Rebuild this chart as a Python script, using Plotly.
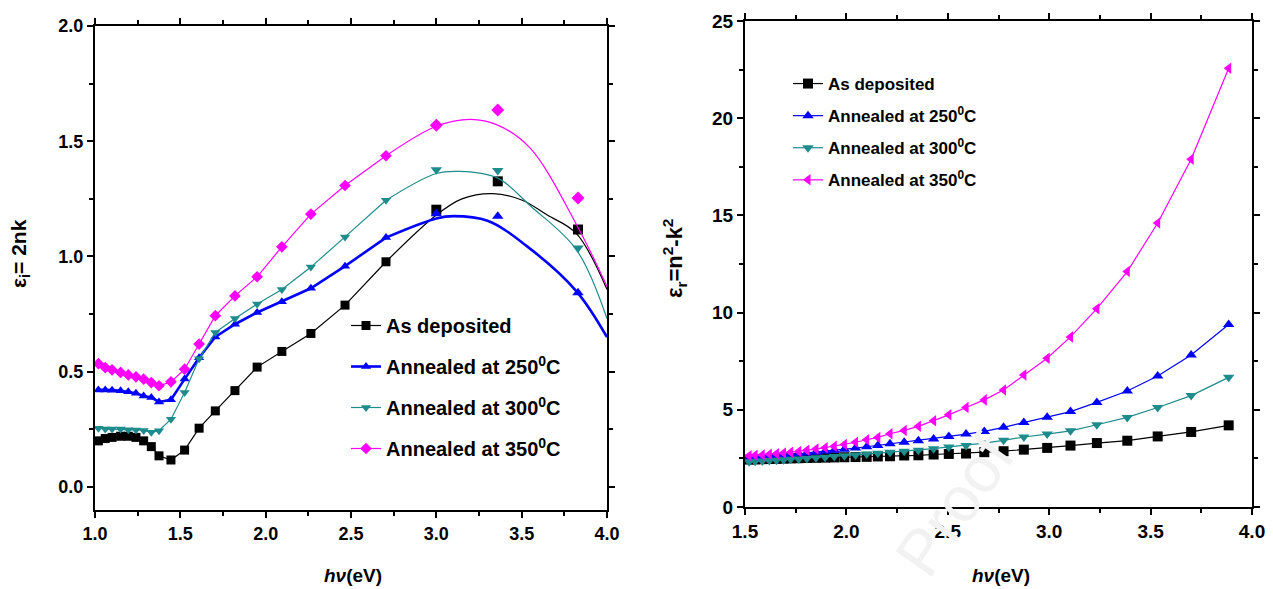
import plotly.graph_objects as go

W, H = 1273, 589

# ---------------- Left panel data (eps_i = 2nk) ----------------
left_x = [1.02, 1.06, 1.10, 1.15, 1.195, 1.24, 1.285, 1.33, 1.375, 1.445, 1.525,
          1.61, 1.705, 1.82, 1.95, 2.095, 2.265, 2.465, 2.705, 3.0, 3.36, 3.83]
dep_i = [0.20, 0.21, 0.215, 0.22, 0.22, 0.215, 0.20, 0.175, 0.135, 0.117, 0.16,
         0.255, 0.33, 0.418, 0.52, 0.588, 0.666, 0.789, 0.977, 1.203, 1.326, 1.117]
a250_i = [0.421, 0.421, 0.42, 0.417, 0.413, 0.407, 0.395, 0.388, 0.369, 0.378, 0.468,
          0.561, 0.651, 0.706, 0.757, 0.804, 0.862, 0.958, 1.082, 1.185, 1.174, 0.843]
a300_i = [0.255, 0.251, 0.251, 0.251, 0.248, 0.247, 0.245, 0.237, 0.244, 0.294, 0.41,
          0.556, 0.67, 0.731, 0.794, 0.857, 0.954, 1.085, 1.244, 1.376, 1.373, 1.037]
a350_i = [0.535, 0.518, 0.508, 0.497, 0.486, 0.478, 0.468, 0.453, 0.439, 0.456, 0.511,
          0.62, 0.743, 0.829, 0.912, 1.042, 1.184, 1.308, 1.437, 1.569, 1.636, 1.254]

# fitted curves (high-energy part)
dep_fit_x = [2.705, 3.0, 3.15, 3.33, 3.5, 3.65, 3.82, 4.0]
dep_fit_y = [0.977, 1.18, 1.25, 1.273, 1.245, 1.18, 1.10, 0.857]
a250_fit_x = [2.705, 3.0, 3.1, 3.3, 3.53, 3.82, 4.0]
a250_fit_y = [1.082, 1.165, 1.175, 1.155, 1.045, 0.85, 0.65]
a300_fit_x = [2.705, 3.0, 3.14, 3.36, 3.55, 3.82, 4.0]
a300_fit_y = [1.244, 1.36, 1.369, 1.34, 1.22, 1.03, 0.73]
a350_fit_x = [2.705, 3.0, 3.2, 3.36, 3.55, 3.82, 4.0]
a350_fit_y = [1.437, 1.565, 1.595, 1.57, 1.47, 1.14, 0.87]
N_LINE = 19  # points joined by straight segments

# ---------------- Right panel data (eps_r = n^2 - k^2) ----------------
right_x = [1.52, 1.55, 1.585, 1.62, 1.655, 1.69, 1.725, 1.765, 1.805, 1.85, 1.895,
           1.94, 1.99, 2.045, 2.10, 2.155, 2.215, 2.285, 2.355, 2.43, 2.505, 2.59,
           2.68, 2.775, 2.875, 2.99, 3.105, 3.235, 3.385, 3.535, 3.70, 3.885]
dep_r = [2.44, 2.45, 2.46, 2.47, 2.48, 2.49, 2.50, 2.51, 2.52, 2.53, 2.54,
         2.55, 2.56, 2.57, 2.58, 2.60, 2.61, 2.65, 2.66, 2.70, 2.73, 2.75,
         2.82, 2.87, 2.95, 3.04, 3.16, 3.29, 3.41, 3.63, 3.86, 4.20]
a250_r = [2.55, 2.57, 2.60, 2.62, 2.65, 2.68, 2.71, 2.74, 2.78, 2.82, 2.87,
          2.92, 2.97, 3.03, 3.10, 3.17, 3.26, 3.33, 3.41, 3.50, 3.63, 3.75,
          3.89, 4.10, 4.35, 4.62, 4.91, 5.38, 5.97, 6.74, 7.82, 9.39]
a300_r = [2.33, 2.35, 2.37, 2.39, 2.41, 2.43, 2.45, 2.47, 2.50, 2.53, 2.56,
          2.60, 2.64, 2.68, 2.72, 2.77, 2.82, 2.87, 2.92, 3.00, 3.09, 3.17,
          3.29, 3.43, 3.60, 3.75, 3.92, 4.23, 4.61, 5.12, 5.73, 6.67]
a350_r = [2.64, 2.66, 2.68, 2.71, 2.74, 2.78, 2.82, 2.86, 2.92, 2.98, 3.05,
          3.13, 3.22, 3.33, 3.46, 3.58, 3.77, 3.94, 4.15, 4.44, 4.74, 5.12,
          5.51, 6.02, 6.79, 7.65, 8.75, 10.2, 12.11, 14.61, 17.89, 22.57]

names = ["As deposited", "Annealed at 250<sup>0</sup>C",
         "Annealed at 300<sup>0</sup>C", "Annealed at 350<sup>0</sup>C"]
colors = ["#000000", "#0000FF", "#1E8C8C", "#FF00FF"]
left_symbols = ["square", "triangle-up", "triangle-down", "diamond"]
right_symbols = ["square", "triangle-up", "triangle-down", "triangle-left"]
left_widths = [1.2, 2.6, 1.2, 1.2]

FONT = "Liberation Sans, Arial, sans-serif"

fig = go.Figure()

left_series = [dep_i, a250_i, a300_i, a350_i]
fits = [(dep_fit_x, dep_fit_y), (a250_fit_x, a250_fit_y),
        (a300_fit_x, a300_fit_y), (a350_fit_x, a350_fit_y)]
for k in range(4):
    # measured points joined by straight segments (legend entry)
    fig.add_trace(go.Scatter(
        x=left_x[:N_LINE], y=left_series[k][:N_LINE], mode="lines+markers",
        name=names[k], legendgroup="L%d" % k, legend="legend",
        line=dict(color=colors[k], width=left_widths[k]),
        marker=dict(symbol=left_symbols[k], size=9, color=colors[k]),
        xaxis="x", yaxis="y"))
    # remaining points (markers only)
    fig.add_trace(go.Scatter(
        x=left_x[N_LINE:], y=left_series[k][N_LINE:], mode="markers",
        showlegend=False, marker=dict(symbol=left_symbols[k], size=10, color=colors[k]),
        xaxis="x", yaxis="y"))
    # fitted curve
    fig.add_trace(go.Scatter(
        x=fits[k][0], y=fits[k][1], mode="lines", showlegend=False,
        line=dict(color=colors[k], width=left_widths[k], shape="spline", smoothing=1.0),
        xaxis="x", yaxis="y"))

right_series = [dep_r, a250_r, a300_r, a350_r]
for k in range(4):
    fig.add_trace(go.Scatter(
        x=right_x, y=right_series[k], mode="lines+markers",
        name=names[k], legendgroup="R%d" % k, legend="legend2",
        line=dict(color=colors[k], width=1.2),
        marker=dict(symbol=right_symbols[k], size=10, color=colors[k]),
        xaxis="x2", yaxis="y2"))

def px_x(p):
    return p / W

def px_y(p):
    return 1 - p / H

axis_common = dict(showline=True, linewidth=2, linecolor="black", mirror="ticks",
                   ticks="outside", ticklen=6, tickwidth=2, tickcolor="black",
                   showgrid=False, zeroline=False, automargin=False)
minor_common = dict(ticks="outside", ticklen=4, tickwidth=1.5, tickcolor="black")

fig.update_layout(
    width=W, height=H,
    paper_bgcolor="white", plot_bgcolor="white",
    margin=dict(l=0, r=0, t=0, b=0, autoexpand=False),
    font=dict(family=FONT, color="black"),
    xaxis=dict(domain=[px_x(95), px_x(607)], range=[1.0, 4.0], tick0=1.0, dtick=0.5,
               tickformat=".1f", anchor="y", minor=dict(dtick=0.25, **minor_common),
               tickfont=dict(size=18, family=FONT, weight="bold"), **axis_common),
    yaxis=dict(domain=[px_y(510), px_y(26)], range=[-0.1, 2.0], tick0=0, dtick=0.5,
               tickformat=".1f", anchor="x", minor=dict(dtick=0.25, **minor_common),
               tickfont=dict(size=18, family=FONT, weight="bold"), **axis_common),
    xaxis2=dict(domain=[px_x(745), px_x(1252)], range=[1.5, 4.0], tick0=1.5, dtick=0.5,
                tickformat=".1f", anchor="y2", minor=dict(dtick=0.25, **minor_common),
                tickfont=dict(size=19, family=FONT, weight="bold"), **axis_common),
    yaxis2=dict(domain=[px_y(507), px_y(21)], range=[0, 25], tick0=0, dtick=5,
                anchor="x2", minor=dict(dtick=2.5, **minor_common),
                tickfont=dict(size=19, family=FONT, weight="bold"), **axis_common),
    legend=dict(x=px_x(346), y=px_y(306), xanchor="left", yanchor="top",
                bgcolor="rgba(0,0,0,0)", traceorder="grouped", tracegroupgap=12,
                font=dict(size=20, family=FONT, weight="bold", color="black")),
    legend2=dict(x=px_x(788), y=px_y(66), xanchor="left", yanchor="top",
                 bgcolor="rgba(0,0,0,0)", traceorder="grouped", tracegroupgap=7,
                 font=dict(size=17, family=FONT, weight="bold", color="black")),
    showlegend=True,
)

annotations = [
    dict(text="<i>hν</i>(eV)", x=px_x(353), y=px_y(575), xref="paper", yref="paper",
         xanchor="center", yanchor="middle", showarrow=False,
         font=dict(size=19, family=FONT, weight="bold")),
    dict(text="<i>hν</i>(eV)", x=px_x(1001), y=px_y(575), xref="paper", yref="paper",
         xanchor="center", yanchor="middle", showarrow=False,
         font=dict(size=19, family=FONT, weight="bold")),
    dict(text="ε<sub>i</sub>= 2nk", x=px_x(20), y=px_y(254), xref="paper", yref="paper",
         xanchor="center", yanchor="middle", showarrow=False, textangle=-90,
         font=dict(size=21, family=FONT, weight="bold")),
    dict(text="ε<sub>r</sub>=n<sup>2</sup>-k<sup>2</sup>", x=px_x(674), y=px_y(259),
         xref="paper", yref="paper", xanchor="center", yanchor="middle",
         showarrow=False, textangle=-90,
         font=dict(size=22, family=FONT, weight="bold")),
    dict(text="Proof", x=px_x(955), y=px_y(505), xref="paper", yref="paper",
         xanchor="center", yanchor="middle", showarrow=False, textangle=-55,
         font=dict(size=64, family=FONT, color="#f2f2f2")),
]
fig.update_layout(annotations=annotations)

fig.write_html("out.html", config={"displayModeBar": False},
               post_script="document.body.style.margin='0px';document.body.style.padding='0px';")
